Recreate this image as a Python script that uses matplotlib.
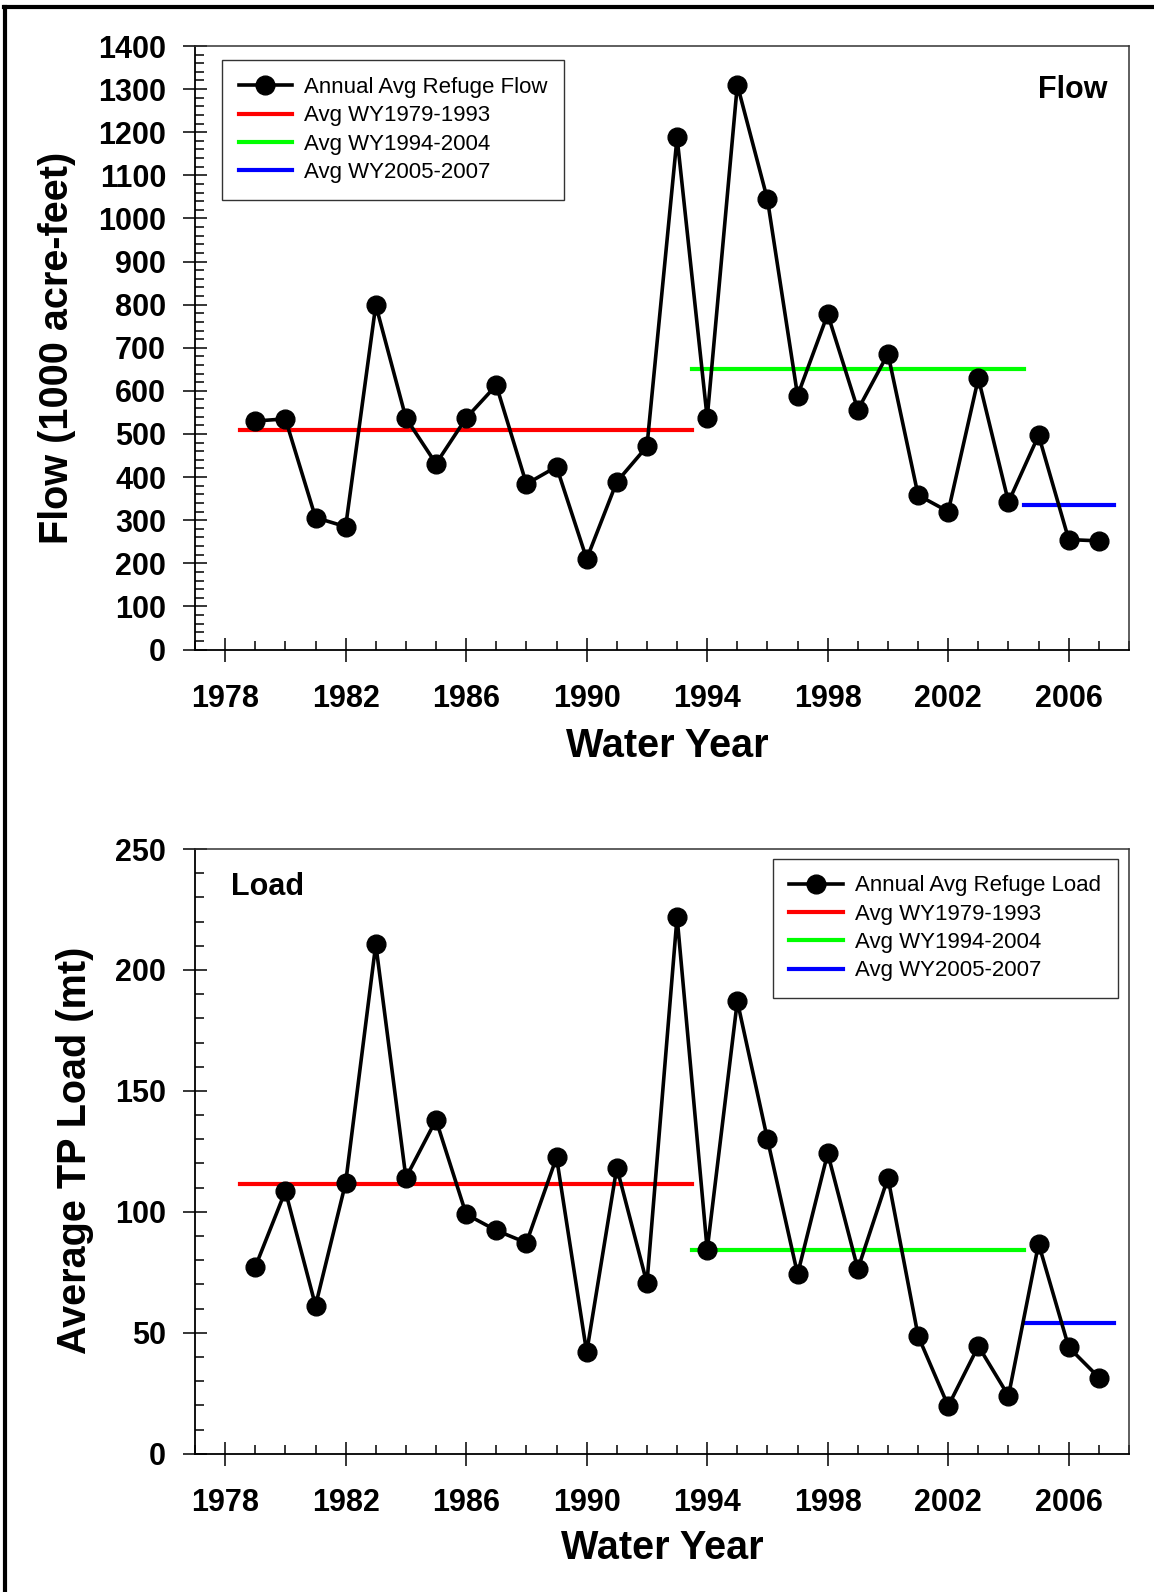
import matplotlib
matplotlib.use("Agg")
import matplotlib.pyplot as plt
from matplotlib.lines import Line2D
from matplotlib.ticker import MultipleLocator

plt.rcParams['font.family'] = ['Liberation Sans', 'DejaVu Sans']

years = list(range(1979, 2008))

# annual average refuge flow (1000 acre-feet)
flow = [530, 535, 306, 285, 799, 537, 431, 537, 613, 384, 424, 210, 389, 471, 1188,
        537, 1310, 1044, 589, 778, 556, 686, 358, 320, 629, 342, 497, 255, 252]
# annual average refuge TP load (mt)
load = [77.2, 108.6, 61.2, 112.0, 210.6, 114.1, 138.0, 99.0, 92.3, 87.2, 122.5, 41.9,
        118.3, 70.5, 221.9, 84.3, 187.1, 130.0, 74.2, 124.2, 76.3, 114.1, 48.7, 19.7,
        44.5, 23.9, 86.8, 44.0, 31.5]

x_ticks = [1978, 1982, 1986, 1990, 1994, 1998, 2002, 2006]

periods = ['Avg WY1979-1993', 'Avg WY1994-2004', 'Avg WY2005-2007']
period_start = [1979, 1994, 2005]
period_end = [1993, 2004, 2007]
period_colors = ['#ff0000', '#00ff00', '#0000ff']
flow_avg = [509, 650, 335]
load_avg = [111.7, 84.3, 54.1]

W, H = 1154, 1592
fig = plt.figure(figsize=(W / 100, H / 100), dpi=100)


def px_axes(left, top, right, bottom):
    return fig.add_axes([left / W, 1 - bottom / H, (right - left) / W, (bottom - top) / H])


def style_axes(ax, ymax, ymajor, yminor):
    ax.set_xlim(1977, 2008)
    ax.set_ylim(0, ymax)
    ax.set_xticks(x_ticks)
    ax.xaxis.set_minor_locator(MultipleLocator(1))
    ax.yaxis.set_major_locator(MultipleLocator(ymajor))
    ax.yaxis.set_minor_locator(MultipleLocator(yminor))
    ax.tick_params(which='major', direction='inout', length=17.5, width=1.1)
    ax.tick_params(which='minor', direction='in', length=6.2, width=1.1)
    ax.tick_params(axis='x', which='major', pad=16, labelsize=22)
    ax.tick_params(axis='y', which='major', pad=12, labelsize=22)
    for lab in ax.get_xticklabels() + ax.get_yticklabels():
        lab.set_fontweight('bold')
    for side in ['left', 'bottom']:
        ax.spines[side].set_linewidth(1.3)
    for side in ['top', 'right']:
        ax.spines[side].set_linewidth(1.1)
        ax.spines[side].set_color('#333333')


def draw_panel(ax, values, avgs, series_label):
    ax.plot(years, values, color='black', lw=2.6, marker='o', ms=13.5,
            label=series_label, zorder=3)
    for lab, s, e, c, v in zip(periods, period_start, period_end, period_colors, avgs):
        ax.plot([s - 0.5, e + 0.5], [v, v], color=c, lw=3, label=lab, zorder=2)


def add_legend(ax, loc, anchor):
    leg = ax.legend(loc=loc, bbox_to_anchor=anchor, borderaxespad=0,
                    fontsize=16, frameon=True, fancybox=False, edgecolor='black',
                    handlelength=2.4, handletextpad=0.55, labelspacing=0.33,
                    borderpad=0.75)
    leg.get_frame().set_linewidth(1.0)
    return leg


# ---- Flow panel
ax1 = px_axes(195, 46, 1129, 649.5)
draw_panel(ax1, flow, flow_avg, 'Annual Avg Refuge Flow')
style_axes(ax1, 1400, 100, 20)
add_legend(ax1, 'upper left', (0.029, 0.976))
ax1.text(0.9775, 0.914, 'Flow', transform=ax1.transAxes, ha='right', va='baseline',
         fontsize=22, fontweight='bold')

# ---- Load panel
ax2 = px_axes(195, 849, 1129, 1453.7)
draw_panel(ax2, load, load_avg, 'Annual Avg Refuge Load')
style_axes(ax2, 250, 50, 10)
add_legend(ax2, 'upper right', (0.9877, 0.984))
ax2.text(0.039, 0.9235, 'Load', transform=ax2.transAxes, ha='left', va='baseline',
         fontsize=22, fontweight='bold')

# axis titles
fig.text(667 / W, 1 - 757 / H, 'Water Year', ha='center', va='baseline',
         fontsize=28.5, fontweight='bold')
fig.text(662 / W, 1 - 1559 / H, 'Water Year', ha='center', va='baseline',
         fontsize=28.5, fontweight='bold')
fig.text(57 / W, 1 - 347.6 / H, 'Flow (1000 acre-feet)', ha='center', va='center',
         rotation=90, fontsize=28.5, fontweight='bold')
fig.text(74.6 / W, 1 - 1150 / H, 'Average TP Load (mt)', ha='center', va='center',
         rotation=90, fontsize=28.5, fontweight='bold')

# outer frame (top and left edges visible)
fig.add_artist(Line2D([5 / W, 5 / W], [0, 1 - 6.5 / H], color='black', lw=3,
                      transform=fig.transFigure))
fig.add_artist(Line2D([5 / W - 0.001, 1], [1 - 6.5 / H, 1 - 6.5 / H], color='black', lw=3,
                      transform=fig.transFigure))

fig.savefig('out.png', dpi=100)
